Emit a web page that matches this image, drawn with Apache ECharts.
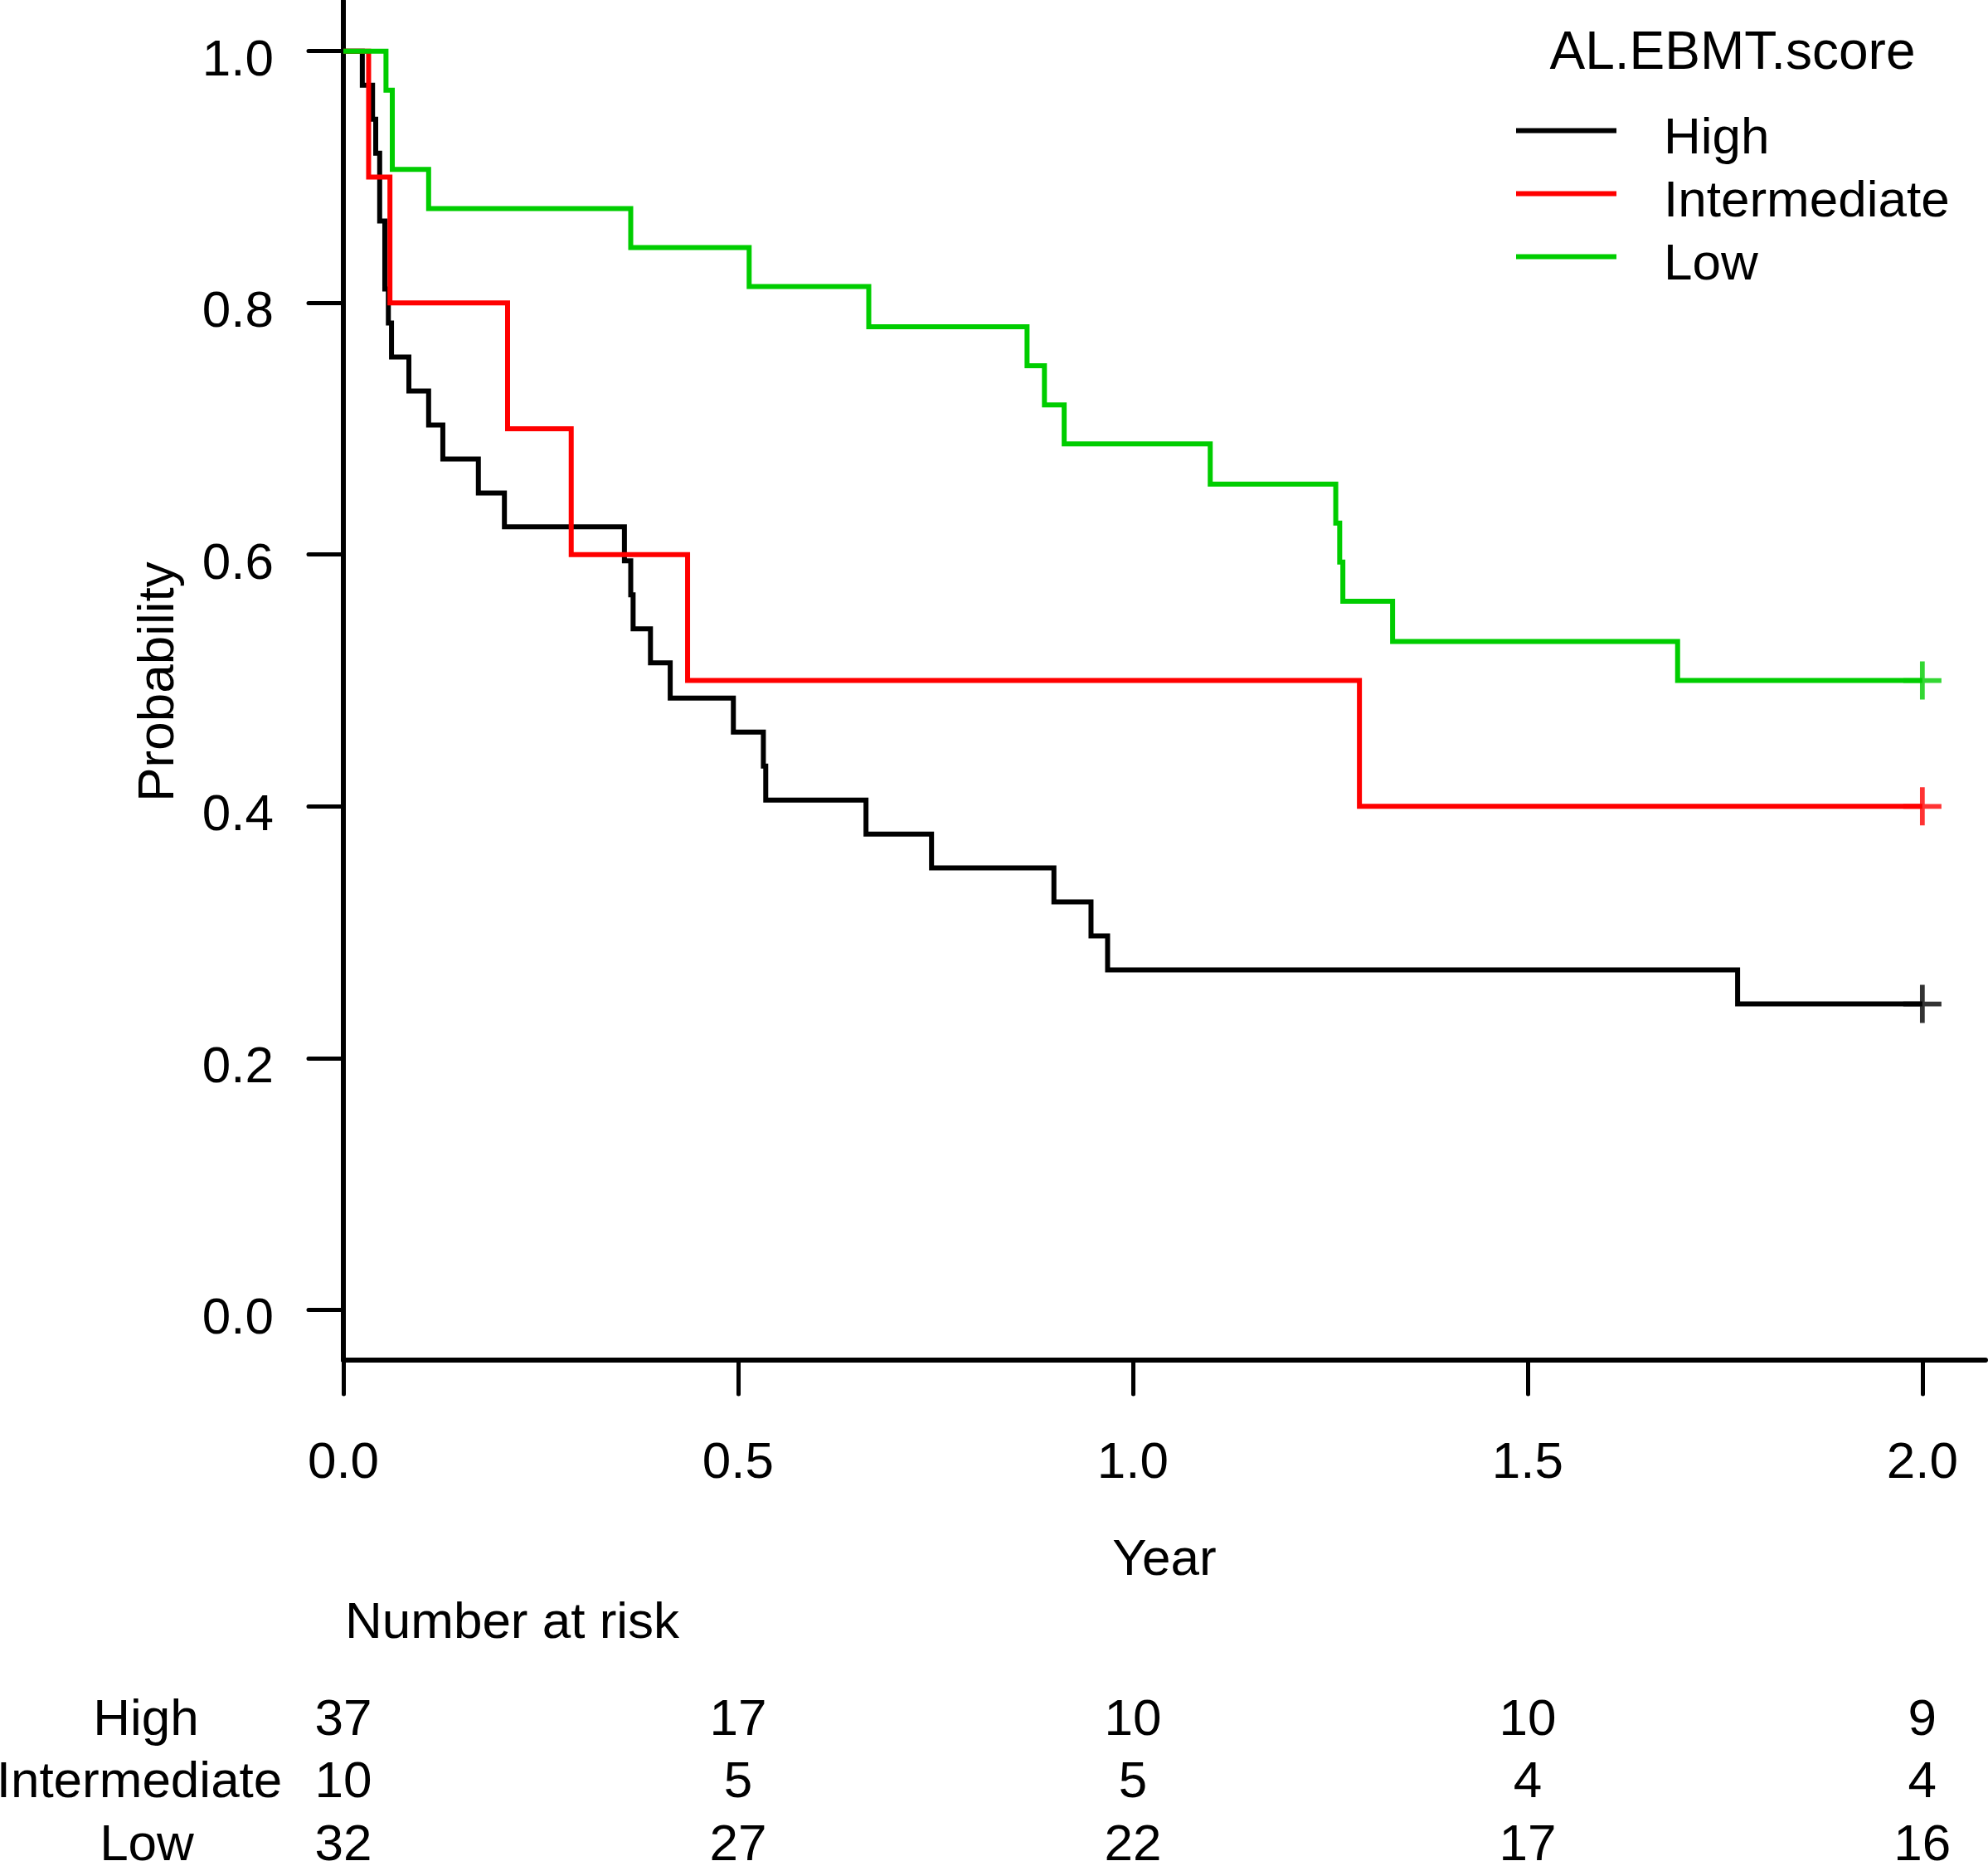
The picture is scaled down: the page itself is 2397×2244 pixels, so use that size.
<!DOCTYPE html>
<html><head><meta charset="utf-8">
<script src="https://cdn.jsdelivr.net/npm/echarts@6/dist/echarts.min.js"></script>
<style>html,body{margin:0;padding:0;background:#fff}#c{width:2397px;height:2244px}</style>
</head><body><div id="c"></div>
<script>
// ---- data ----
const groups = ['High', 'Intermediate', 'Low'];
const colors = ['#000000', '#FF0000', '#00CD00'];

const highTime = [0, 0.024, 0.037, 0.041, 0.046, 0.0525, 0.057, 0.061, 0.083, 0.108, 0.126, 0.171, 0.204, 0.356, 0.364, 0.367, 0.389, 0.414, 0.494, 0.532, 0.535, 0.662, 0.745, 0.900, 0.947, 0.968, 1.766, 2.0];
const highSurv = [1.000, 0.973, 0.946, 0.919, 0.865, 0.811, 0.784, 0.757, 0.730, 0.703, 0.676, 0.649, 0.622, 0.595, 0.568, 0.541, 0.514, 0.486, 0.459, 0.432, 0.405, 0.378, 0.351, 0.324, 0.297, 0.270, 0.243, 0.243];

const interTime = [0, 0.032, 0.059, 0.208, 0.2886, 0.436, 1.287, 2.0];
const interSurv = [1.0, 0.9, 0.8, 0.7, 0.6, 0.5, 0.4, 0.4];

const lowTime = [0, 0.054, 0.062, 0.108, 0.364, 0.514, 0.6655, 0.866, 0.888, 0.913, 1.098, 1.257, 1.262, 1.266, 1.329, 1.690, 2.0];
const lowSurv = [1.000, 0.969, 0.906, 0.875, 0.844, 0.813, 0.781, 0.750, 0.719, 0.688, 0.656, 0.625, 0.594, 0.563, 0.531, 0.500, 0.500];

const censorTime = [2.0, 2.0, 2.0];
const censorSurv = [0.243, 0.4, 0.5];

const xTicks = [0, 0.5, 1, 1.5, 2];
const yTicks = [0, 0.2, 0.4, 0.6, 0.8, 1];

const riskTimes = [0, 0.5, 1, 1.5, 2];
const riskHigh = [37, 17, 10, 10, 9];
const riskInter = [10, 5, 5, 4, 4];
const riskLow = [32, 27, 22, 17, 16];

// ---- chart ----
const FONT = 'Liberation Sans';
const FS = 62;
const chart = echarts.init(document.getElementById('c'), null, {renderer: 'canvas'});

const times = [highTime, interTime, lowTime];
const survs = [highSurv, interSurv, lowSurv];
const plusPath = 'path://M-0.125,-1L0.125,-1L0.125,-0.125L1,-0.125L1,0.125L0.125,0.125L0.125,1L-0.125,1L-0.125,0.125L-1,0.125L-1,-0.125L-0.125,-0.125Z';
// legend icon: a bar at the top of its box, so the label sits slightly below the line
const legendIcon = 'path://M0,0L121,0L121,6L0,6Z M0,27L0.01,27L0,27Z';

const series = [];
groups.forEach((g, i) => {
  series.push({
    name: g, type: 'line', step: 'end', symbol: 'none', showSymbol: false,
    color: colors[i],
    itemStyle: {color: colors[i]},
    lineStyle: {color: colors[i], width: 6, join: 'miter'},
    data: times[i].map((t, k) => [t, survs[i][k]]),
    z: 2 + i, animation: false
  });
});
groups.forEach((g, i) => {
  series.push({
    name: g + ' censored', type: 'scatter', symbol: plusPath, symbolSize: 46,
    itemStyle: {color: colors[i]},
    data: [[censorTime[i], censorSurv[i]]],
    z: 6, animation: false, silent: true
  });
});

const option = {
  animation: false,
  backgroundColor: '#ffffff',
  grid: {left: 414, right: 3, top: 1, bottom: 604, containLabel: false},
  xAxis: {
    type: 'value', min: 0, max: 2.08,
    axisLine: {show: true, onZero: false, lineStyle: {color: '#000', width: 6, cap: 'round'}},
    axisTick: {show: true, customValues: xTicks, length: 41, lineStyle: {color: '#000', width: 5, cap: 'round'}},
    axisLabel: {customValues: xTicks, formatter: v => Number(v).toFixed(1), fontSize: FS, fontFamily: FONT,
      color: '#000', margin: 125, verticalAlign: 'middle'},
    splitLine: {show: false}
  },
  yAxis: {
    type: 'value', min: -0.04, max: 1.04,
    axisLine: {show: true, onZero: false, lineStyle: {color: '#000', width: 6}},
    axisTick: {show: true, customValues: yTicks, length: 42, lineStyle: {color: '#000', width: 5, cap: 'round'}},
    axisLabel: {customValues: yTicks, formatter: v => Number(v).toFixed(1), fontSize: FS, fontFamily: FONT,
      color: '#000', margin: 84, verticalAlign: 'top', lineHeight: 24},
    splitLine: {show: false}
  },
  legend: {
    data: groups, orient: 'vertical', left: 1828, top: 137, padding: 0,
    itemWidth: 121, itemHeight: 27, itemGap: 14,
    icon: legendIcon, selectedMode: false,
    textStyle: {fontSize: FS, fontFamily: FONT, color: '#000', padding: [0, 0, 0, 52]}
  },
  series: series
};
chart.setOption(option);

function txt(text, x, y, align, rot, fs) {
  return {
    type: 'text', x: x, y: y, rotation: rot || 0, silent: true,
    style: {text: text, fill: '#000', fontSize: fs || FS, fontFamily: FONT,
      align: align || 'center', verticalAlign: 'middle',
      textAlign: align || 'center', textVerticalAlign: 'middle'}
  };
}

const g = [];
g.push(txt('AL.EBMT.score', 2089, 65, 'center', 0, 64));
g.push(txt('Year', 1404, 1882, 'center'));
g.push(txt('Probability', 192, 822, 'center', Math.PI / 2));
g.push(txt('Number at risk', 416, 1958, 'left'));
const rowY = [2075, 2150, 2226];
const rowLabelX = [176, 168, 177];
const risks = [riskHigh, riskInter, riskLow];
groups.forEach((name, i) => {
  g.push(txt(name, rowLabelX[i], rowY[i], 'center'));
  riskTimes.forEach((t, k) => {
    const px = chart.convertToPixel({xAxisIndex: 0}, t);
    g.push(txt(String(risks[i][k]), px, rowY[i], 'center'));
  });
});
chart.setOption({graphic: {elements: g}});
</script>
</body></html>
